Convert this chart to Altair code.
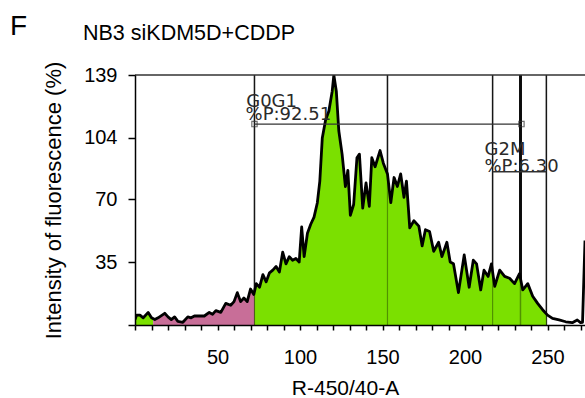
import altair as alt
import pandas as pd
import numpy as np

# Histogram: channel (R-450/40-A) and intensity (%)
channel = [0, 1, 3, 5, 8, 10, 12, 14, 18, 20, 22, 24, 26, 29, 32, 34, 36, 39, 42, 45,
           47, 49, 52, 55, 58, 60, 62, 64, 66, 68, 70, 72,
           73.5, 75.5, 77.5, 79.5, 81.5, 83.5, 85.5, 87.5, 89.5, 91.5, 93.5, 95.5, 97.5,
           99.5, 101, 102.5, 104.5, 106.5, 108.5, 110.5, 112, 113.5, 115.5, 117.5, 119.5,
           120.5, 122, 123.5, 125.5, 127.5, 129, 130.5, 132.5, 134.5, 136, 138, 140, 142,
           143.5, 145.5, 148.5, 150.5, 153, 155, 157, 159, 161, 163, 164.5, 166.5, 169,
           172, 174, 176, 178.5, 181, 184, 186, 189, 191, 193, 196, 199.5, 202.5, 205,
           207, 209.5, 211.5, 214, 216, 218, 221, 224, 227, 230, 233, 235, 238, 241, 244,
           247, 250, 253, 257, 261, 265, 268, 270, 271.2, 272.7]
count = [3, 5.5, 5.5, 4, 7, 4, 3, 4, 6.5, 4.5, 3, 4.5, 2, 1.5, 4.5, 4, 5, 5, 5, 7,
         6, 8, 7, 12, 11, 13, 18, 13, 15, 13, 20, 17,
         23, 21, 28, 24, 29, 30.5, 32.5, 29.5, 40.5, 34, 38, 36, 37,
         35, 54.5, 38, 51, 56, 60, 68, 80, 104, 114, 119, 130,
         139, 130, 108, 95, 77, 86, 61, 67, 93, 95, 65, 79, 66,
         93, 88, 97, 90, 84, 68, 82, 77, 84, 71, 80, 54, 58,
         55, 44, 53, 52, 41, 46, 38, 46, 35, 34, 18, 39, 21, 36,
         34, 19.5, 30.5, 27, 34, 21.5, 30.5, 27, 26, 23, 28.5, 19.5, 23, 16, 12,
         8.5, 5.5, 3.7, 2.8, 1.8, 1.3, 2.8, 1.3, 1.5, 47]

# Gates
gate_x = [72.4, 153.0, 216.7, 249.3]
thick_gate_x = [233.6]
g0g1_line_x = [72.4, 234.2]
g0g1_line_y = 111.7
g2m_line_x = [216.7, 249.3]
g2m_line_y = 85.2

# Fill segments (start, end, key)
seg_start = [0, 11, 72.4]
seg_end = [11, 72.4, 249.3]
seg_key = ["a", "b", "c"]
seg_color = ["#7be000", "#c86e98", "#7be000"]

# Annotations
ann_text = ["G0G1", "%P:92.51", "G2M", "%P:6.30"]
ann_x = [67.4, 67.0, 211.8, 211.8]
ann_y = [121.3, 113.9, 94.4, 85.2]

chart_title = "NB3 siKDM5D+CDDP"
panel_letter = "F"

y_ticks = [0, 35, 70, 104, 139]
x_ticks = list(range(0, 280, 10))
X_MAX = 272.7
Y_MAX = 139

ch = np.array(channel, dtype=float)
ct = np.array(count, dtype=float)

rows = []
for s, e, k in zip(seg_start, seg_end, seg_key):
    mask = (ch > s) & (ch < e)
    xs = [s] + list(ch[mask]) + [e]
    ys = [float(np.interp(s, ch, ct))] + list(ct[mask]) + [float(np.interp(e, ch, ct))]
    for xv, yv in zip(xs, ys):
        rows.append({"x": xv, "y": yv, "seg": k})
fill_df = pd.DataFrame(rows)
hist_df = pd.DataFrame({"x": channel, "y": count})

xscale = alt.Scale(domain=[0, X_MAX], nice=False, zero=False)
yscale = alt.Scale(domain=[0, Y_MAX], nice=False)

FONT = "Liberation Sans"


def xaxis():
    return alt.Axis(
        title="R-450/40-A", values=x_ticks, labelOverlap=False,
        labelExpr="(datum.value % 50 == 0 && datum.value > 0) ? datum.label : ''",
        titleX=210, titleAnchor="middle", titleFontSize=21, titlePadding=10,
        labelPadding=17, tickSize=5, zindex=2,
    )


def yaxis():
    return alt.Axis(
        title="Intensity of fluorescence (%)", values=y_ticks, labelOverlap=False,
        labelExpr="datum.value == 0 ? '' : datum.label",
        titleFontSize=22, titlePadding=18, labelPadding=11, tickSize=7, zindex=2,
    )


def X(field):
    return alt.X(field, type="quantitative", scale=xscale, axis=xaxis())


def Y(field):
    return alt.Y(field, type="quantitative", scale=yscale, axis=yaxis(), stack=None)


gates_df = pd.DataFrame({"x": gate_x, "y0": [0] * len(gate_x), "y1": [Y_MAX] * len(gate_x)})
thick_df = pd.DataFrame({"x": thick_gate_x, "y0": [0], "y1": [Y_MAX]})

gates_under = alt.Chart(gates_df).mark_rule(color="#222222", strokeWidth=1.5).encode(
    x=X("x"), y=Y("y0"), y2="y1:Q")
thick_under = alt.Chart(thick_df).mark_rule(color="#111111", strokeWidth=3).encode(
    x=X("x"), y=Y("y0"), y2="y1:Q")

area = alt.Chart(fill_df).mark_area(clip=True, interpolate="linear").encode(
    x=X("x"), y=Y("y"),
    color=alt.Color("seg:N", scale=alt.Scale(domain=seg_key, range=seg_color), legend=None),
    detail="seg:N",
)

gates_over = alt.Chart(gates_df).mark_rule(color="#000000", strokeWidth=1.2, opacity=0.35).encode(
    x=X("x"), y=Y("y0"), y2="y1:Q")
thick_over = alt.Chart(thick_df).mark_rule(color="#000000", strokeWidth=1.5, opacity=0.35).encode(
    x=X("x"), y=Y("y0"), y2="y1:Q")

line = alt.Chart(hist_df).mark_line(color="#000000", strokeWidth=2.8, clip=True,
                                    strokeJoin="round").encode(x=X("x"), y=Y("y"))

top_df = pd.DataFrame({"x0": [0], "x1": [X_MAX], "y": [Y_MAX]})
top_border = alt.Chart(top_df).mark_rule(color="#333333", strokeWidth=1.5).encode(
    x=X("x0"), x2="x1:Q", y=Y("y"))

hl_df = pd.DataFrame({
    "x0": [g0g1_line_x[0], g2m_line_x[0]],
    "x1": [g0g1_line_x[1], g2m_line_x[1]],
    "y": [g0g1_line_y, g2m_line_y],
})
hlines = alt.Chart(hl_df).mark_rule(color="#333333", strokeWidth=1.3).encode(
    x=X("x0"), x2="x1:Q", y=Y("y"))

sq_df = pd.DataFrame({"x": g0g1_line_x, "y": [g0g1_line_y, g0g1_line_y]})
squares = alt.Chart(sq_df).mark_point(shape="square", size=28, filled=False,
                                      color="#333333", strokeWidth=1.2).encode(
    x=X("x"), y=Y("y"))

ann_df = pd.DataFrame({"t": ann_text, "x": ann_x, "y": ann_y})
ann = alt.Chart(ann_df).mark_text(align="left", baseline="alphabetic", font="DejaVu Sans",
                                  fontSize=18, color="#2a2a2a").encode(
    x=X("x"), y=Y("y"), text="t:N")

panel_df = pd.DataFrame({"t": [panel_letter]})
panel = alt.Chart(panel_df).mark_text(align="left", baseline="alphabetic", font=FONT,
                                      fontSize=28, color="#000000").encode(
    x=alt.value(-125), y=alt.value(-40), text="t:N")

title_df = pd.DataFrame({"t": [chart_title]})
title_mark = alt.Chart(title_df).mark_text(align="left", baseline="alphabetic", font=FONT,
                                           fontSize=21.5, color="#000000").encode(
    x=alt.value(-52), y=alt.value(-35), text="t:N")

chart = alt.layer(
    gates_under, thick_under, area, gates_over, thick_over, line,
    top_border, hlines, squares, ann, panel, title_mark,
).properties(
    width=450, height=250,
    autosize=alt.AutoSizeParams(type="none"),
    padding={"left": 135, "top": 75, "right": 0, "bottom": 73},
).configure_view(stroke=None).configure_axis(
    grid=False, domainColor="#000000", domainWidth=1.5, tickColor="#000000",
    tickWidth=1.5, labelFont=FONT, labelFontSize=20, labelColor="#000000",
    titleFont=FONT, titleFontWeight="normal", titleColor="#000000",
)

chart.save("out.html", embed_options={"renderer": "svg", "actions": False})
